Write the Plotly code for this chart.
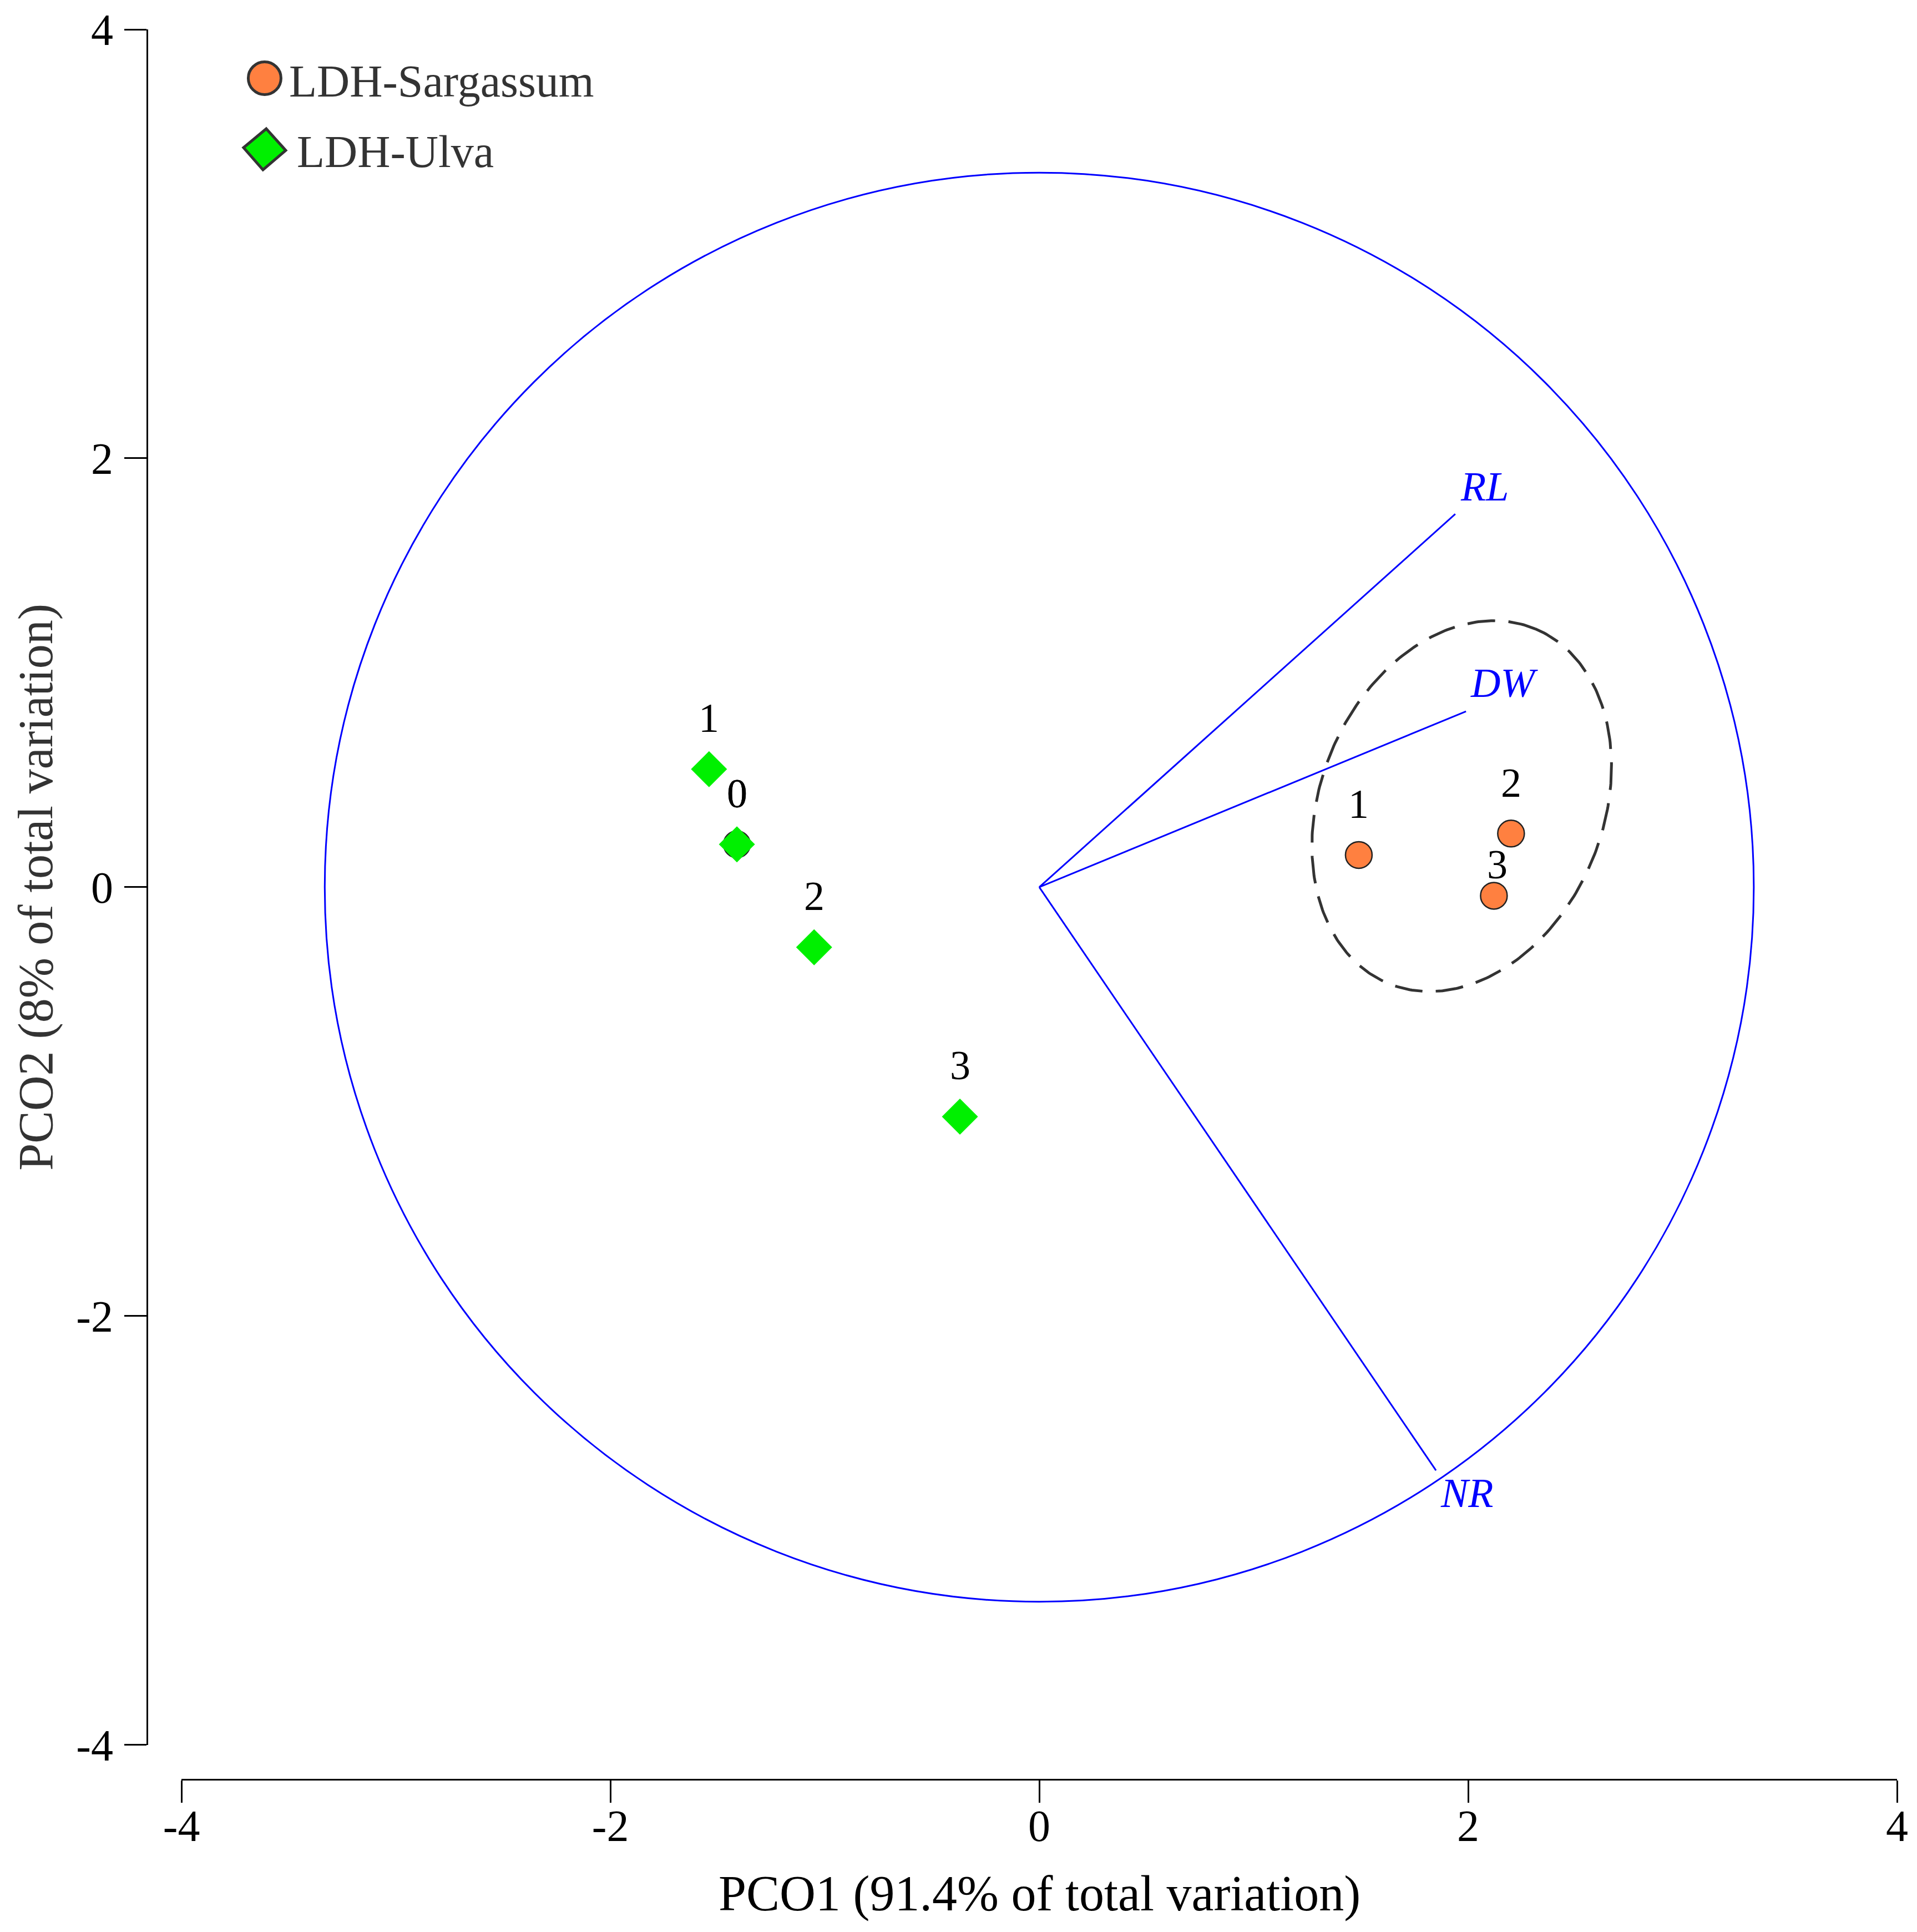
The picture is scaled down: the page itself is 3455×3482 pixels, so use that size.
import numpy as np
import plotly.graph_objects as go

# -------------------------------------
# DATA
# -------------------------------------

sarg_labels = ["0", "1", "2", "3"]
sarg_x = [-1.41, 1.49, 2.20, 2.12]
sarg_y = [0.20, 0.15, 0.25, -0.04]

ulva_labels = ["0", "1", "2", "3"]
ulva_x = [-1.41, -1.54, -1.05, -0.37]
ulva_y = [0.20, 0.55, -0.28, -1.07]

vec_names = ["RL", "DW", "NR"]
vec_x = [1.94, 1.99, 1.85]
vec_y = [1.74, 0.82, -2.72]

circle_radius = 3.332

# dashed ellipse around LDH-Sargassum: centre, semi-axes, tilt (deg)
ell_cx, ell_cy = 1.97, 0.378
ell_a, ell_b = 0.895, 0.659
ell_angle = 67.5

tick_vals = [-4, -2, 0, 2, 4]
tick_text = ["-4", "-2", "0", "2", "4"]

x_title = "PCO1 (91.4% of total variation)"
y_title = "PCO2 (8% of total variation)"

# -------------------------------------
# STYLE
# -------------------------------------

W, H = 3455, 3482
# the page body adds an 8px offset, margins are compensated for it
ML, MR, MT, MB = 257, 44, 45, 283
DOM0 = 0.0197

FONT = "Liberation Serif"
BLUE = "#0000ff"
ORANGE = "#ff8040"
GREEN = "#00f000"
EDGE = "#333333"

# label offsets in pixels (x, y) for each point
sarg_shift = [(0, 92), (0, 92), (0, 91), (6, 56)]
ulva_shift = [(0, 92), (0, 92), (0, 92), (0, 92)]
vec_shift = [(53, 49), (69, 51), (56, -41)]

fig = go.Figure()

# correlation circle
fig.add_shape(type="circle", xref="x", yref="y",
              x0=-circle_radius, x1=circle_radius,
              y0=-circle_radius, y1=circle_radius,
              line=dict(color=BLUE, width=3), layer="below")

# vectors
for name, vx, vy in zip(vec_names, vec_x, vec_y):
    fig.add_trace(go.Scatter(x=[0, vx], y=[0, vy], mode="lines",
                             line=dict(color=BLUE, width=3),
                             hoverinfo="skip", showlegend=False))

# dashed ellipse
t = np.linspace(0, 2 * np.pi, 361)
th = np.deg2rad(ell_angle)
ex = ell_cx + ell_a * np.cos(t) * np.cos(th) - ell_b * np.sin(t) * np.sin(th)
ey = ell_cy + ell_a * np.cos(t) * np.sin(th) + ell_b * np.sin(t) * np.cos(th)
fig.add_trace(go.Scatter(x=ex, y=ey, mode="lines",
                         line=dict(color=EDGE, width=5, dash="50px,24px"),
                         hoverinfo="skip", showlegend=False))

# points
fig.add_trace(go.Scatter(x=sarg_x, y=sarg_y, mode="markers", name="LDH-Sargassum",
                         marker=dict(symbol="circle", size=48, color=ORANGE,
                                     line=dict(color="#222222", width=2.5)),
                         showlegend=False))
fig.add_trace(go.Scatter(x=ulva_x, y=ulva_y, mode="markers", name="LDH-Ulva",
                         marker=dict(symbol="diamond", size=50, color=GREEN,
                                     line=dict(width=0)),
                         showlegend=False))

annotations = []
for lab, px, py, (sx, sy) in zip(sarg_labels, sarg_x, sarg_y, sarg_shift):
    annotations.append(dict(x=px, y=py, xref="x", yref="y", text=lab,
                            showarrow=False, xshift=sx, yshift=sy,
                            font=dict(family=FONT, size=74, color="black")))
for lab, px, py, (sx, sy) in zip(ulva_labels, ulva_x, ulva_y, ulva_shift):
    annotations.append(dict(x=px, y=py, xref="x", yref="y", text=lab,
                            showarrow=False, xshift=sx, yshift=sy,
                            font=dict(family=FONT, size=74, color="black")))
for name, vx, vy, (sx, sy) in zip(vec_names, vec_x, vec_y, vec_shift):
    annotations.append(dict(x=vx, y=vy, xref="x", yref="y", text=f"<i>{name}</i>",
                            showarrow=False, xshift=sx, yshift=sy,
                            font=dict(family=FONT, size=74, color=BLUE)))

# axis titles
annotations.append(dict(x=0, y=-0.0653, xref="x", yref="paper", text=x_title,
                        showarrow=False, xanchor="center", yanchor="middle",
                        font=dict(family=FONT, size=90, color="black")))
annotations.append(dict(x=-0.0635, y=0, xref="paper", yref="y", text=y_title,
                        showarrow=False, textangle=-90,
                        xanchor="center", yanchor="middle",
                        font=dict(family=FONT, size=88, color=EDGE)))

# legend (drawn by hand so the symbols keep their size)
annotations.append(dict(x=0.0805, y=0.9702, xref="paper", yref="paper",
                        text="LDH-Sargassum", showarrow=False,
                        xanchor="left", yanchor="middle",
                        font=dict(family=FONT, size=82, color=EDGE)))
annotations.append(dict(x=0.0849, y=0.9302, xref="paper", yref="paper",
                        text="LDH-Ulva", showarrow=False,
                        xanchor="left", yanchor="middle",
                        font=dict(family=FONT, size=82, color=EDGE)))

fig.add_shape(type="circle", xref="paper", yref="paper",
              xsizemode="pixel", ysizemode="pixel",
              xanchor=0.0672, yanchor=0.9721,
              x0=-29.5, x1=29.5, y0=-29.5, y1=29.5,
              fillcolor=ORANGE, line=dict(color=EDGE, width=5))
fig.add_shape(type="path", xref="paper", yref="paper",
              xsizemode="pixel", ysizemode="pixel",
              xanchor=0.0672, yanchor=0.9315,
              path="M 3,37 L 38,-2 L -3,-37 L -38,3 Z",
              fillcolor=GREEN, line=dict(color=EDGE, width=5))

axis_common = dict(
    range=[-4, 4],
    tickvals=tick_vals,
    ticktext=tick_text,
    showgrid=False,
    zeroline=False,
    showline=True,
    linecolor="black",
    linewidth=3,
    ticks="outside",
    ticklen=40,
    tickwidth=2.5,
    tickcolor="black",
    tickfont=dict(family=FONT, size=80, color="black"),
    automargin=False,
    anchor="free",
    position=0,
    domain=[DOM0, 1],
)

fig.update_layout(
    width=W,
    height=H,
    margin=dict(l=ML, r=MR, t=MT, b=MB, pad=0),
    paper_bgcolor="white",
    plot_bgcolor="white",
    showlegend=False,
    xaxis=dict(**axis_common, ticklabelstandoff=-27),
    yaxis=dict(**axis_common, ticklabelstandoff=4),
    annotations=annotations,
)

fig.write_html("out.html")
